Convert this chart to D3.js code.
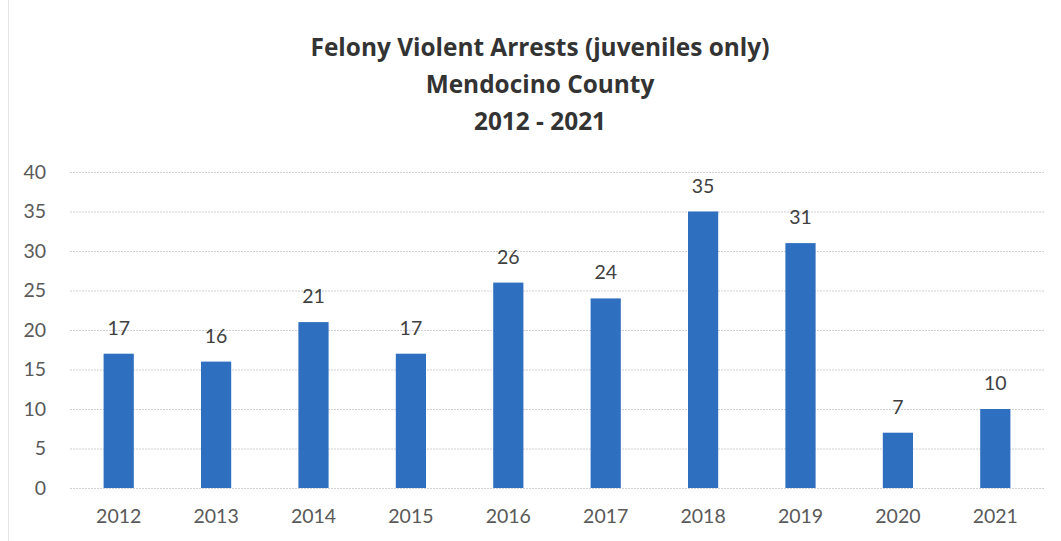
<!DOCTYPE html>
<html><head><meta charset="utf-8">
<script src="https://cdn.jsdelivr.net/npm/d3@7"></script>
<style>body{margin:0;background:#fff;}svg{display:block;font-family:Lato,"Open Sans",sans-serif;}</style>
</head><body>
<svg id="c" width="1061" height="541"></svg>
<script>
const years = ["2012","2013","2014","2015","2016","2017","2018","2019","2020","2021"];
const arrests = [17,16,21,17,26,24,35,31,7,10];
const yTicks = [0,5,10,15,20,25,30,35,40];
const titleLines = ["Felony Violent Arrests (juveniles only)","Mendocino County","2012 - 2021"];

(function(){
const svg = d3.select("#c");
const pL = 70, pR = 1044, pT = 172, pB = 488;
const x = d3.scaleBand().domain(years).range([pL, pR]).paddingInner(0.69).paddingOuter(0.345);
const y = d3.scaleLinear().domain([0,40]).range([pB, pT]);

svg.append("rect").attr("x",8.5).attr("y",-2).attr("width",1060).attr("height",560).attr("fill","none").attr("stroke","#e4e4e4");

svg.selectAll("text.title").data(titleLines).enter().append("text")
  .attr("x",540).attr("y",(d,i)=>56+i*37).attr("text-anchor","middle")
  .attr("font-family","'Open Sans',Lato,sans-serif")
  .attr("font-size",24.4).attr("font-weight","bold").attr("fill","#333333").text(d=>d);

const gy = svg.append("g").attr("transform",`translate(${pL},0)`)
  .call(d3.axisLeft(y).tickValues(yTicks).tickSize(-(pR-pL)).tickPadding(24));
gy.select(".domain").remove();
gy.selectAll(".tick line").attr("stroke","#d0d0d0").attr("stroke-dasharray","2,1");
gy.selectAll(".tick text").attr("font-size",19.5).attr("fill","#595959").attr("font-family","Lato,'Open Sans',sans-serif");

const gx = svg.append("g").attr("transform",`translate(0,${pB})`)
  .call(d3.axisBottom(x).tickSize(0).tickPadding(21));
gx.select(".domain").remove();
gx.selectAll(".tick text").attr("font-size",19.5).attr("fill","#595959").attr("font-family","Lato,'Open Sans',sans-serif");

svg.selectAll("rect.bar").data(arrests).enter().append("rect")
  .attr("x",(d,i)=>x(years[i])).attr("width",x.bandwidth())
  .attr("y",d=>y(d)).attr("height",d=>pB-y(d)).attr("fill","#2f6fc0");

svg.selectAll("text.val").data(arrests).enter().append("text")
  .attr("x",(d,i)=>x(years[i])+x.bandwidth()/2).attr("y",d=>y(d)-19)
  .attr("text-anchor","middle").attr("font-size",19.5).attr("fill","#404040").text(d=>d);
})();
</script>
</body></html>
